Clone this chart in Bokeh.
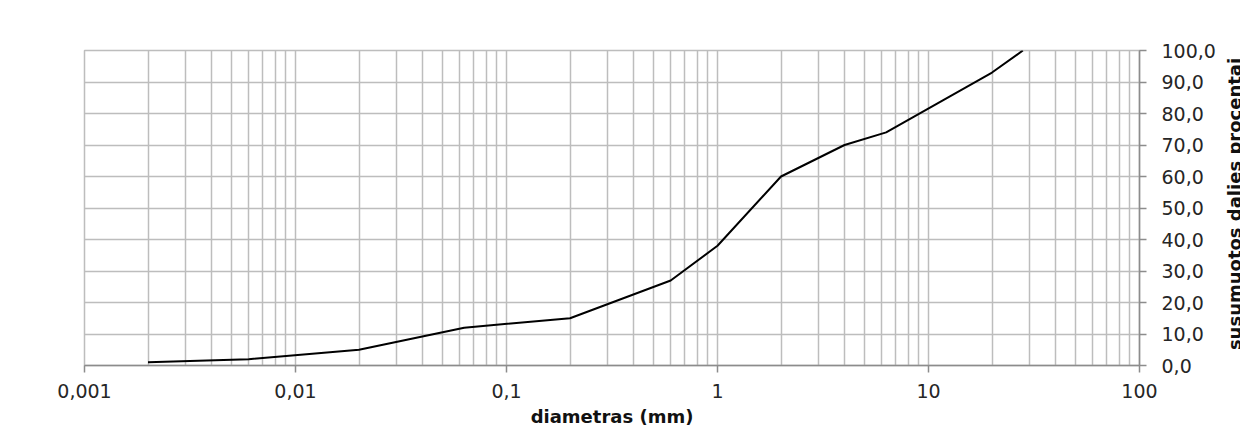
import math
from bokeh.plotting import figure
from bokeh.layouts import row
from bokeh.models import FixedTicker, ColumnDataSource, Range1d, Label
from bokeh.embed import file_html
from bokeh.resources import INLINE

# data
diameter_mm = [0.002, 0.006, 0.02, 0.063, 0.2, 0.6, 1, 2, 4, 6.3, 20, 28]
cumulative_pct = [1.0, 2.0, 5.0, 12.0, 15.0, 27.0, 38.0, 60.0, 70.0, 74.0, 93.0, 100.0]

x_ticks = [0.001, 0.01, 0.1, 1, 10, 100]
x_tick_labels = ["0,001", "0,01", "0,1", "1", "10", "100"]
y_ticks = [0, 10, 20, 30, 40, 50, 60, 70, 80, 90, 100]
y_tick_labels = ["0,0", "10,0", "20,0", "30,0", "40,0", "50,0", "60,0", "70,0", "80,0", "90,0", "100,0"]

x_title = "diametras (mm)"
y_title = "susumuotos dalies procentai"

GRID = "#bdbdbd"
AXIS = "#8c8c8c"
FONT = "DejaVu Sans"
H = 431

p = figure(width=1218, height=H, x_axis_type="log", y_axis_location="right",
           output_backend="svg", toolbar_location=None,
           x_range=Range1d(x_ticks[0], x_ticks[-1]), y_range=Range1d(y_ticks[0], y_ticks[-1]),
           min_border_left=84, min_border_right=78, min_border_top=50, min_border_bottom=66)
p.outline_line_color = GRID
p.outline_line_width = 1.5
p.background_fill_color = "white"
p.border_fill_color = "white"

minor = [d * k for d in x_ticks[:-1] for k in range(2, 10)]
p.xaxis.ticker = FixedTicker(ticks=x_ticks, minor_ticks=minor)
p.xaxis.major_label_overrides = {t: l for t, l in zip(x_ticks, x_tick_labels)}
p.yaxis.ticker = FixedTicker(ticks=y_ticks)
p.yaxis.major_label_overrides = {t: l for t, l in zip(y_ticks, y_tick_labels)}

for ax in (p.xaxis, p.yaxis):
    ax.axis_line_color = AXIS
    ax.axis_line_width = 1.5
    ax.major_tick_line_color = AXIS
    ax.major_tick_line_width = 1.5
    ax.major_tick_out = 7
    ax.major_tick_in = 0
    ax.minor_tick_out = 0
    ax.minor_tick_in = 0
    ax.major_label_text_font = FONT
    ax.major_label_text_font_size = "19px"
    ax.major_label_text_color = "#262626"
    ax.axis_label_text_font = FONT
    ax.axis_label_text_font_style = "bold"
    ax.axis_label_text_font_size = "18px"
    ax.axis_label_text_color = "#111111"

p.xaxis.axis_label = x_title
p.xaxis.major_label_standoff = 11
p.xaxis.axis_label_standoff = 5
p.yaxis.major_label_standoff = 15

p.xgrid.grid_line_color = GRID
p.xgrid.grid_line_width = 1.5
p.xgrid.minor_grid_line_color = GRID
p.xgrid.minor_grid_line_width = 1.5
p.ygrid.grid_line_color = GRID
p.ygrid.grid_line_width = 1.5

src = ColumnDataSource(dict(x=diameter_mm, y=cumulative_pct))
p.line("x", "y", source=src, line_color="black", line_width=2)

# narrow strip holding the y title, reading bottom-to-top
side = figure(width=22, height=H, output_backend="svg", toolbar_location=None,
              x_axis_location=None, y_axis_location=None,
              x_range=Range1d(0, 22), y_range=Range1d(0, H),
              min_border_left=0, min_border_right=0, min_border_top=0, min_border_bottom=0)
side.outline_line_color = None
side.grid.visible = False
side.background_fill_color = "white"
side.border_fill_color = "white"
side.add_layout(Label(x=16, y=H - 210, text=y_title, angle=math.pi / 2,
                      text_align="center", text_baseline="alphabetic",
                      text_font=FONT, text_font_style="bold",
                      text_font_size="18px", text_color="#111111"))

layout = row(p, side)
open("out.html", "w").write(file_html(layout, INLINE))
